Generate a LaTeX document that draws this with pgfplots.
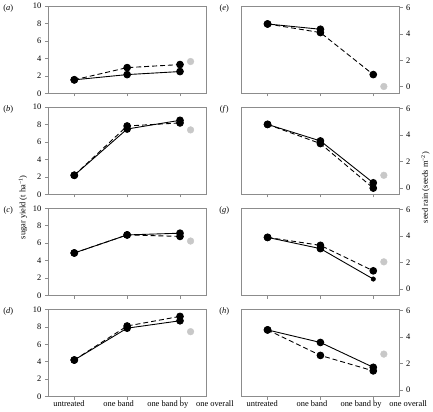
\documentclass[border=0pt]{standalone}
\usepackage{fontspec}
\setmainfont{Liberation Serif}
\usepackage{pgfplots}
\pgfplotsset{compat=1.18}
\definecolor{axgray}{RGB}{140,140,140}
\definecolor{ptgray}{RGB}{200,200,200}
\pgfplotsset{
 panel/.style={scale only axis, width=160bp, height=88bp, xmin=-0.5, xmax=2.5,
   xtick={0,1,2}, xticklabels={}, tick align=outside, xtick pos=bottom,
   axis line style={axgray, line width=0.6pt}, tick style={axgray, line width=0.6pt}, major tick length=3bp,
   tick label style={font=\fontsize{8.5}{9}\selectfont},
   /pgf/number format/assume math mode=true, clip=false, anchor=north west},
 leftp/.style={panel, ymin=0, ymax=10, ytick={0,2,4,6,8,10}, ytick pos=left},
 rightp/.style={panel, ymin=-0.5, ymax=6.1, ytick={0,2,4,6}, ytick pos=right, yticklabel pos=right},
 sol/.style={black, solid, line width=0.9pt, mark=*, mark size=3.4bp, mark options={solid}},
 das/.style={black, dash pattern=on 5bp off 3bp, line width=0.9pt, mark=*, mark size=3.4bp, mark options={solid}},
 gry/.style={only marks, mark=*, mark size=3.4bp, color=ptgray, mark options={fill=ptgray, draw=ptgray}},
}
\newcommand{\catlabels}[1]{%
  \node[anchor=north, inner sep=0pt, font=\fontsize{8.5}{9}\selectfont] at (axis cs:-0.1,#1) [yshift=-4bp] {untreated};
  \node[anchor=north, inner sep=0pt, font=\fontsize{8.5}{9}\selectfont] at (axis cs:0.84,#1) [yshift=-4bp] {one band};
  \node[anchor=north, inner sep=0pt, font=\fontsize{8.5}{9}\selectfont] at (axis cs:1.77,#1) [yshift=-4bp] {one band by};
  \node[anchor=north, inner sep=0pt, font=\fontsize{8.5}{9}\selectfont] at (axis cs:2.66,#1) [yshift=-4bp] {one overall};
}
\begin{document}
\begin{tikzpicture}
\path (0,0) rectangle (433bp,-414bp);
% ---- left column: sugar yield
\begin{axis}[leftp, at={(47bp,-5bp)}]
\addplot[sol] coordinates {(0,1.55) (1,2.15) (2,2.5)};
\addplot[das] coordinates {(0,1.55) (1,2.95) (2,3.3)};
\addplot[gry] coordinates {(2.2,3.65)};
\end{axis}
\begin{axis}[leftp, at={(47bp,-107bp)}]
\addplot[sol] coordinates {(0,2.2) (1,7.5) (2,8.5)};
\addplot[das] coordinates {(0,2.2) (1,7.85) (2,8.2)};
\addplot[gry] coordinates {(2.2,7.4)};
\end{axis}
\begin{axis}[leftp, at={(47bp,-209bp)}]
\addplot[sol] coordinates {(0,4.88) (1,6.95) (2,7.15)};
\addplot[das] coordinates {(0,4.88) (1,6.95) (2,6.78)};
\addplot[gry] coordinates {(2.2,6.25)};
\end{axis}
\begin{axis}[leftp, at={(47bp,-311bp)}]
\addplot[sol] coordinates {(0,4.2) (1,7.85) (2,8.7)};
\addplot[das] coordinates {(0,4.2) (1,8.1) (2,9.2)};
\addplot[gry] coordinates {(2.2,7.45)};
\catlabels{0}
\end{axis}
% ---- right column: seed rain
\begin{axis}[rightp, at={(242bp,-5bp)}]
\addplot[sol] coordinates {(0,4.75) (1,4.35)};
\addplot[das] coordinates {(0,4.75) (1,4.1) (2,0.92)};
\addplot[gry] coordinates {(2.2,0.02)};
\end{axis}
\begin{axis}[rightp, at={(242bp,-107bp)}]
\addplot[sol] coordinates {(0,4.8) (1,3.55) (2,0.38)};
\addplot[das] coordinates {(0,4.8) (1,3.35) (2,-0.02)};
\addplot[gry] coordinates {(2.2,0.95)};
\end{axis}
\begin{axis}[rightp, at={(242bp,-209bp)}]
\addplot[sol, mark indices={1,2}] coordinates {(0,3.9) (1,3.05) (2,0.75)};
\addplot[only marks, mark=*, mark size=2.3bp, black] coordinates {(2,0.75)};
\addplot[das] coordinates {(0,3.9) (1,3.3) (2,1.37)};
\addplot[gry] coordinates {(2.2,2.05)};
\end{axis}
\begin{axis}[rightp, at={(242bp,-311bp)}]
\addplot[sol] coordinates {(0,4.55) (1,3.6) (2,1.72)};
\addplot[das] coordinates {(0,4.55) (1,2.62) (2,1.45)};
\addplot[gry] coordinates {(2.2,2.72)};
\catlabels{-0.5}
\end{axis}
% ---- axis titles and panel letters
\node[rotate=90, font=\fontsize{8.5}{9}\selectfont] at (22bp,-208bp) {sugar yield (t ha\textsuperscript{−1})};
\node[rotate=90, font=\fontsize{8.5}{9}\selectfont] at (428bp,-188bp) {seed rain (seeds m\textsuperscript{−2})};
\foreach \k/\l/\r in {0/a/e,1/b/f,2/c/g,3/d/h}{
  \node[font=\fontsize{8.5}{9}\selectfont] at (7bp,{-7bp-102bp*\k}) {(\textit{\l})};
  \node[font=\fontsize{8.5}{9}\selectfont] at (225bp,{-7bp-102bp*\k}) {(\textit{\r})};
}
\end{tikzpicture}
\end{document}
